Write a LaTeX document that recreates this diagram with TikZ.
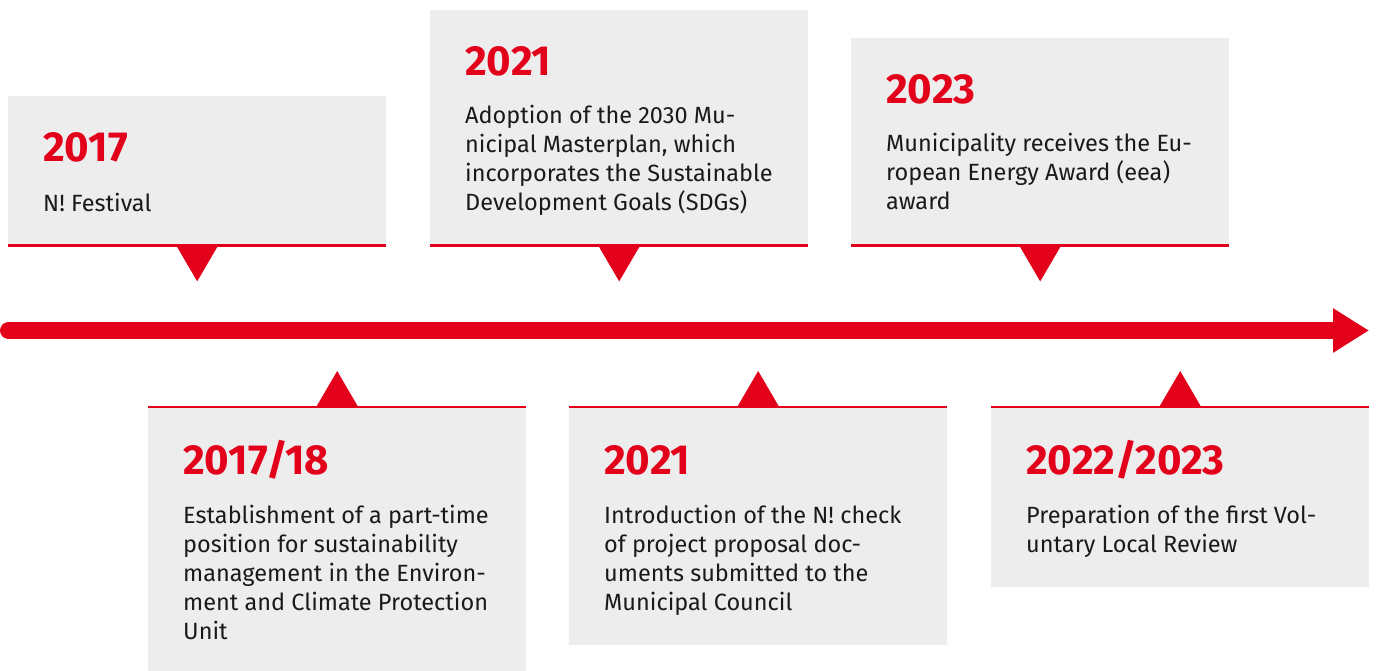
\documentclass[tikz,border=0pt]{standalone}
\usepackage{fontspec}
\setmainfont{Fira Sans}
\usetikzlibrary{arrows.meta,calc}
\definecolor{stadtred}{HTML}{E2001A}
\definecolor{boxgray}{HTML}{EDEDED}
\definecolor{textblack}{HTML}{1A1A1A}

\begin{document}
\begin{tikzpicture}[x=1pt, y=-1pt,
  card/.style={fill=boxgray, draw=none, minimum width=378pt, inner sep=0pt, anchor=north west},
  year/.style={font=\fontsize{42}{42}\selectfont\bfseries, text=stadtred, inner sep=0pt, anchor=base west},
  note/.style={font=\fontsize{23.5}{29}\selectfont, text=textblack, inner sep=0pt, anchor=north west, align=left, execute at begin node=\strut},
  redrule/.style={draw=stadtred, line width=2.5pt}]
  \newcommand*{\TipHalf}{21}
  \newcommand*{\TipLength}{36}
  \newcommand*{\StrutTop}{20.3}
  \useasboundingbox (0,0) rectangle (1377,671);
  % time axis
  \coordinate (Start) at (8.5,330.5);
  \coordinate (End) at (1369,330.5);
  \draw[stadtred, line width=17pt, line cap=round, -{Triangle[width=42pt,length=36pt]}] (Start) -- (End);
  % cards above the axis
  \node[card, minimum height=149pt] (Fest) at (8,96) {};
  \node[card, minimum height=235pt] (Plan) at (430,10) {};
  \node[card, minimum height=207pt] (Award) at (851,38) {};
  % cards below the axis
  \node[card, minimum height=264pt] (Post) at (148,407) {};
  \node[card, minimum height=238pt] (Check) at (569,407) {};
  \node[card, minimum height=180pt] (Review) at (991,407) {};
  \foreach \Card in {Fest,Plan,Award}{
    \draw[redrule] (\Card.south west) -- (\Card.south east);
    \fill[stadtred] ($(\Card.south)+(-\TipHalf,0)$) -- ($(\Card.south)+(\TipHalf,0)$) -- ($(\Card.south)+(0,\TipLength)$) -- cycle;
  }
  \foreach \Card in {Post,Check,Review}{
    \draw[redrule] (\Card.north west) -- (\Card.north east);
    \fill[stadtred] ($(\Card.north)+(-\TipHalf,0)$) -- ($(\Card.north)+(\TipHalf,0)$) -- ($(\Card.north)+(0,-\TipLength)$) -- cycle;
  }
  % texts
  \node[year] (FestYear) at ($(Fest.north west)+(35,66)$) {2017};
  \node[note] (FestText) at ($(Fest.north west)+(35,115-\StrutTop)$) {N! Festival};
  \node[year] (PlanYear) at ($(Plan.north west)+(35,66)$) {2021};
  \node[note] (PlanText) at ($(Plan.north west)+(35,115-\StrutTop)$) {Adoption of the 2030 Mu-\\nicipal Masterplan, which\\incorporates the Sustainable\\Development Goals (SDGs)};
  \node[year] (AwardYear) at ($(Award.north west)+(35,66)$) {2023};
  \node[note] (AwardText) at ($(Award.north west)+(35,115-\StrutTop)$) {Municipality receives the Eu-\\ropean Energy Award (eea)\\award};
  \node[year] (PostYear) at ($(Post.north west)+(35,67)$) {2017/18};
  \node[note] (PostText) at ($(Post.north west)+(35,118-\StrutTop)$) {Establishment of a part-time\\position for sustainability\\management in the Environ-\\ment and Climate Protection\\Unit};
  \node[year] (CheckYear) at ($(Check.north west)+(35,67)$) {2021};
  \node[note] (CheckText) at ($(Check.north west)+(35,118-\StrutTop)$) {Introduction of the N! check\\of project proposal doc-\\uments submitted to the\\Municipal Council};
  \node[year] (ReviewYear) at ($(Review.north west)+(35,67)$) {2022/2023};
  \node[note] (ReviewText) at ($(Review.north west)+(35,118-\StrutTop)$) {Preparation of the first Vol-\\untary Local Review};
\end{tikzpicture}
\end{document}
